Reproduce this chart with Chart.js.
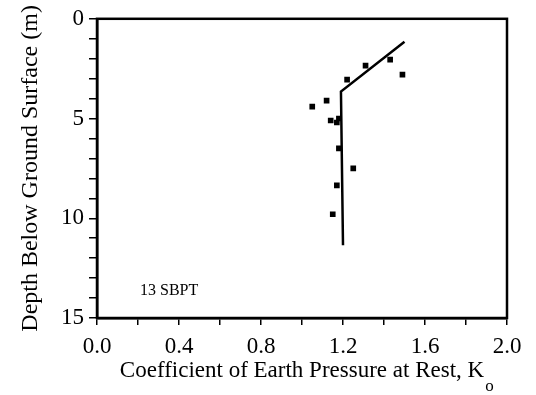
<!DOCTYPE html>
<html>
<head>
<meta charset="utf-8">
<script src="https://cdn.jsdelivr.net/npm/chart.js@4.4.1/dist/chart.umd.min.js"></script>
<style>
  body { margin: 0; background: #fff; }
  canvas { display: block; }
</style>
</head>
<body>
<canvas id="myChart" width="536" height="395"></canvas>
<script>
// measured Ko values and their depths (m)
const ko = [1.05, 1.12, 1.22, 1.31, 1.43, 1.49, 1.14, 1.18, 1.17, 1.18, 1.25, 1.17, 1.15];
const depth = [4.4, 4.1, 3.05, 2.35, 2.05, 2.8, 5.1, 5.0, 5.2, 6.5, 7.5, 8.35, 9.8];

// interpreted profile line
const trendKo = [1.50, 1.19, 1.20];
const trendDepth = [1.15, 3.65, 11.35];

const depthTicks = [0, 5, 10, 15];
const koTicks = ['0.0', '0.4', '0.8', '1.2', '1.6', '2.0'];
const testLabel = '13 SBPT';

const serif = "'Liberation Serif', 'Times New Roman', serif";

//draws the top/right side of the box, the note and the subscript on K
const extras = {
  id: 'extras',
  afterDraw(chart) {
    const { ctx, chartArea: a, scales } = chart;
    ctx.save();
    ctx.strokeStyle = '#000';
    ctx.lineWidth = 2.5;
    ctx.strokeRect(a.left, a.top, a.right - a.left, a.bottom - a.top);

    ctx.fillStyle = '#000';
    ctx.textBaseline = 'middle';
    ctx.textAlign = 'left';
    ctx.font = '16px ' + serif;
    ctx.fillText(testLabel, scales.x.getPixelForValue(0.21), scales.y.getPixelForValue(13.65));

    // subscript o after the x title
    const t = scales.x.options.title;
    ctx.font = t.font.size + 'px ' + serif;
    const w = ctx.measureText(t.text).width;
    const cx = (scales.x.left + scales.x.right) / 2;
    const ty = scales.x.bottom - t.padding.bottom - t.font.size * 1.2 / 2;
    ctx.font = '17px ' + serif;
    ctx.fillText('o', cx + w / 2 + 1, ty + 15);
    ctx.restore();
  }
};

const ctx = document.getElementById('myChart');
const myChart = new Chart(ctx, {
  type: 'scatter',
  data: {
    datasets: [{
      label: 'Ko',
      data: ko.map((k, i) => ({ x: k, y: depth[i] })),
      pointStyle: 'rect',
      pointRadius: 4,
      borderWidth: 0,
      backgroundColor: '#000'
    }, {
      label: 'profile',
      type: 'line',
      data: trendKo.map((k, i) => ({ x: k, y: trendDepth[i] })),
      showLine: true,
      borderColor: '#000',
      borderWidth: 2.5,
      pointRadius: 0,
      fill: false
    }]
  },
  plugins: [extras],
  options: {
    responsive: false,
    animation: false,
    layout: { padding: { left: 0, right: 29, top: 13, bottom: 0 } },
    plugins: { legend: { display: false }, tooltip: { enabled: false } },
    scales: {
      x: {
        type: 'linear',
        min: 0,
        max: 2,
        afterFit: s => { s.height = 395 - 318; },
        border: { display: true, color: '#000', width: 2.5 },
        grid: { drawOnChartArea: false, drawTicks: true, tickLength: 7, color: '#000', lineWidth: 1.5 },
        ticks: {
          stepSize: 0.2,
          autoSkip: false,
          maxRotation: 0,
          padding: 8,
          color: '#000',
          font: { family: serif, size: 23 },
          callback: (v, i) => (i % 2 === 0 ? koTicks[i / 2] : '')
        },
        title: {
          display: true,
          text: 'Coefficient of Earth Pressure at Rest, K',
          color: '#000',
          font: { family: serif, size: 23 },
          padding: { top: 0, bottom: 10 }
        }
      },
      y: {
        type: 'linear',
        min: 0,
        max: 15,
        reverse: true,
        afterFit: s => { s.width = 97; },
        border: { display: true, color: '#000', width: 2.5 },
        grid: { drawOnChartArea: false, drawTicks: true, tickLength: 8, color: '#000', lineWidth: 1.5 },
        ticks: {
          stepSize: 1,
          autoSkip: false,
          padding: 5,
          color: '#000',
          font: { family: serif, size: 23 },
          callback: v => (depthTicks.includes(v) ? String(v) : '')
        },
        title: {
          display: true,
          text: 'Depth Below Ground Surface (m)',
          color: '#000',
          font: { family: serif, size: 24 },
          padding: { top: 16, bottom: 0 }
        }
      }
    }
  }
});
</script>
</body>
</html>
